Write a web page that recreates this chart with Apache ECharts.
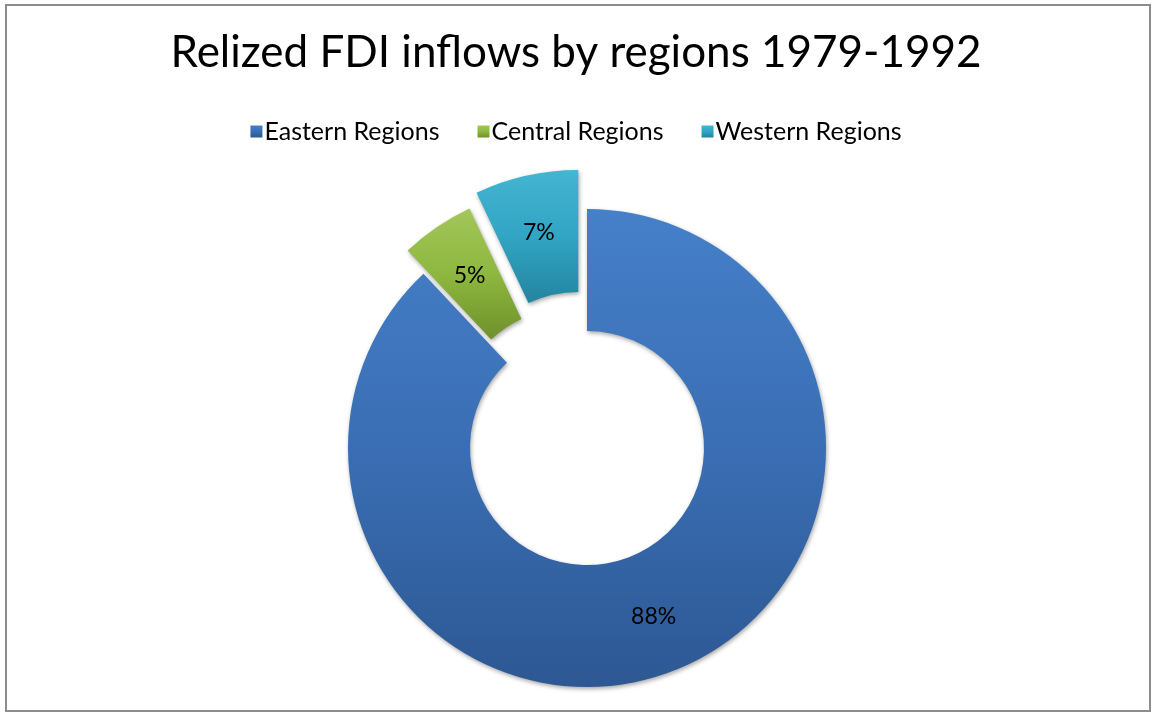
<!DOCTYPE html>
<html>
<head>
<meta charset="utf-8">
<script src="https://cdn.jsdelivr.net/npm/echarts@6/dist/echarts.min.js"></script>
<style>
    html, body { margin: 0; padding: 0; background: #fff; }
    #main { width: 1152px; height: 713px; }
</style>
</head>
<body>
<div id="main"></div>
<script>
    var categories = ['Eastern Regions', 'Central Regions', 'Western Regions'];
    var shares = [88, 5, 7];
    // how far each slice is pulled out of the ring (px)
    var explode = [0, 28, 40];

    var colors = [
        ['#4580c8', '#3a6eb4', '#2d5893'],
        ['#a3c65a', '#8db83f', '#6f902b'],
        ['#44b5d2', '#31a5c4', '#23849f']
    ];

    function fill(i) {
        return {
            type: 'linear', x: 0, y: 0, x2: 0, y2: 1,
            colorStops: [
                { offset: 0, color: colors[i][0] },
                { offset: 0.5, color: colors[i][1] },
                { offset: 1, color: colors[i][2] }
            ]
        };
    }

    var hidden = {
        itemStyle: { color: 'rgba(0,0,0,0)', shadowBlur: 0, shadowColor: 'rgba(0,0,0,0)' },
        label: { show: false }
    };

    // ring 1: Eastern + Central, ring 2: Western (different pull-out distances)
    var ring1 = [
        { name: categories[0], value: shares[0], selected: explode[0] > 0, itemStyle: { color: fill(0) } },
        { name: categories[1], value: shares[1], selected: explode[1] > 0, itemStyle: { color: fill(1) } },
        Object.assign({ name: '_rest1', value: shares[2] }, hidden)
    ];
    var ring2 = [
        Object.assign({ name: '_rest2', value: shares[0] + shares[1] }, hidden),
        { name: categories[2], value: shares[2], selected: explode[2] > 0, itemStyle: { color: fill(2) } }
    ];

    function ring(data, offset) {
        return {
            type: 'pie',
            center: [587, 448],
            radius: [117, 239],
            startAngle: 90,
            clockwise: true,
            selectedMode: 'multiple',
            selectedOffset: offset,
            avoidLabelOverlap: false,
            silent: true,
            label: {
                show: true,
                position: 'inside',
                formatter: '{c}%',
                fontFamily: 'Lato',
                fontSize: 23,
                color: '#000'
            },
            labelLine: { show: false },
            itemStyle: {
                shadowBlur: 4,
                shadowColor: 'rgba(0,0,0,0.35)',
                shadowOffsetX: 1,
                shadowOffsetY: 2
            },
            data: data
        };
    }

    var myChart = echarts.init(document.getElementById('main'));
    var option = {
        backgroundColor: '#fff',
        title: {
            text: 'Relized FDI inflows by regions 1979-1992',
            left: 'center',
            top: 26,
            textStyle: {
                fontFamily: 'Lato',
                fontSize: 44,
                fontWeight: 'normal',
                color: '#000'
            }
        },
        legend: {
            top: 114,
            left: 'center',
            itemWidth: 12,
            itemHeight: 12,
            itemGap: 38,
            icon: 'rect',
            selectedMode: false,
            textStyle: {
                fontFamily: 'Lato',
                fontSize: 25,
                color: '#000',
                padding: [0, 0, 0, -3]
            },
            data: categories
        },
        graphic: [{
            type: 'rect',
            shape: { x: 6, y: 5, width: 1144, height: 706 },
            style: { fill: 'none', stroke: '#8c8c8c', lineWidth: 2 },
            silent: true
        }],
        series: [ring(ring1, explode[1]), ring(ring2, explode[2])]
    };
    myChart.setOption(option);
</script>
</body>
</html>
